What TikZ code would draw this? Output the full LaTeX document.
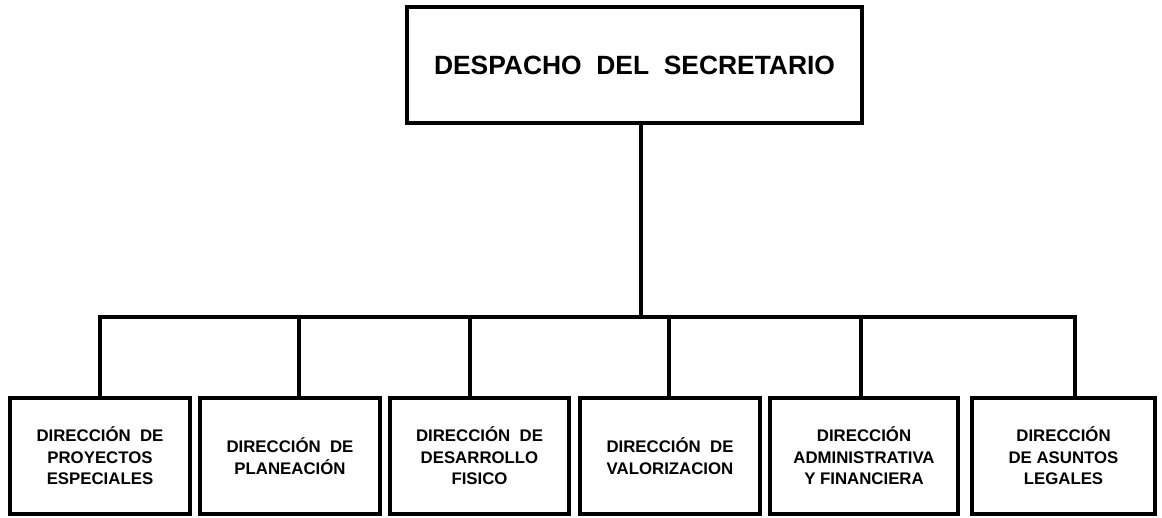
\documentclass[tikz,border=0pt]{standalone}
\usepackage{fontspec}
\setmainfont{Liberation Sans}
\begin{document}
\begin{tikzpicture}[x=1pt,y=-1pt,
  boxstyle/.style={draw=black,line width=4pt,fill=white,inner sep=0pt,align=center,font=\fontsize{16.8}{21.5}\selectfont\bfseries},
  topstyle/.style={draw=black,line width=4pt,fill=white,inner sep=0pt,align=center,font=\fontsize{26.4}{30}\selectfont\bfseries},
  conn/.style={draw=black,line width=3.5pt}]
\useasboundingbox (0,0) rectangle (1162,517);
% top box
\node[topstyle,minimum width=455pt,minimum height=116pt] (top) at (634.5,65) {DESPACHO\ \ DEL\ \ SECRETARIO};
% bottom boxes
\node[boxstyle,minimum width=180pt,minimum height=116pt] (b1) at (100,456) {DIRECCIÓN\ \ DE\\PROYECTOS\\ESPECIALES};
\node[boxstyle,minimum width=180pt,minimum height=116pt] (b2) at (290,456) {DIRECCIÓN\ \ DE\\PLANEACIÓN};
\node[boxstyle,minimum width=179pt,minimum height=116pt] (b3) at (479.5,456) {DIRECCIÓN\ \ DE\\DESARROLLO\\FISICO};
\node[boxstyle,minimum width=180pt,minimum height=116pt] (b4) at (670,456) {DIRECCIÓN\ \ DE\\VALORIZACION};
\node[boxstyle,minimum width=188pt,minimum height=116pt] (b5) at (864,456) {DIRECCIÓN\\ADMINISTRATIVA\\Y FINANCIERA};
\node[boxstyle,minimum width=183pt,minimum height=116pt] (b6) at (1063.5,456) {DIRECCIÓN\\DE ASUNTOS\\LEGALES};
% bus coordinates
\coordinate (j) at (641,317);
\coordinate (d1) at (100,317);
\coordinate (d2) at (299,317);
\coordinate (d3) at (470,317);
\coordinate (d4) at (669,317);
\coordinate (d5) at (861,317);
\coordinate (d6) at (1075,317);
% connectors
\draw[conn] (top.south -| j) -- (j);
\draw[conn,line cap=rect] (d1) -- (d6);
\draw[conn] (d1) -- (d1 |- b1.north);
\draw[conn] (d2) -- (d2 |- b2.north);
\draw[conn] (d3) -- (d3 |- b3.north);
\draw[conn] (d4) -- (d4 |- b4.north);
\draw[conn] (d5) -- (d5 |- b5.north);
\draw[conn] (d6) -- (d6 |- b6.north);
\end{tikzpicture}
\end{document}
